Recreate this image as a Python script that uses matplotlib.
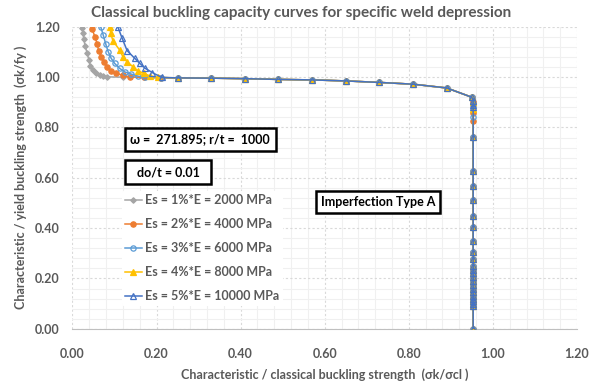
import matplotlib
matplotlib.use("Agg")
import matplotlib.pyplot as plt
from matplotlib.ticker import MultipleLocator

plt.rcParams["font.family"] = ["Lato", "DejaVu Sans"]

# ── data ──────────────────────────────────────────────────────────────────────
# shared part of all curves: plateau and vertical drop near σk/σcl ≈ 0.953
TAIL_X = [0.25, 0.33, 0.41, 0.49, 0.57, 0.65, 0.73, 0.81, 0.89, 0.950]
TAIL_Y = [0.997, 0.996, 0.994, 0.991, 0.989, 0.985, 0.979, 0.972, 0.957, 0.920]
DROP_Y = [0.762, 0.629, 0.568, 0.512, 0.450, 0.405, 0.349, 0.307, 0.278,
          0.250, 0.235, 0.220, 0.205, 0.190, 0.175, 0.160, 0.145, 0.130,
          0.120, 0.110, 0.100, 0.090, 0.0]
DROP_X = 0.953

# series-specific head (rising branch at small σk/σcl) and knee points
ES1_X = [0.023, 0.025, 0.027, 0.030, 0.035, 0.039, 0.042, 0.049, 0.057, 0.065, 0.073, 0.083, 0.12, 0.17, 0.21]
ES1_Y = [1.195, 1.175, 1.151, 1.124, 1.095, 1.068, 1.044, 1.028, 1.015, 1.008, 1.004, 1.001, 1.000, 0.999, 0.998]
ES1_KNEE = [0.905, 0.885]

ES2_X = [0.047, 0.053, 0.059, 0.062, 0.069, 0.075, 0.083, 0.091, 0.104, 0.120, 0.136, 0.17, 0.21]
ES2_Y = [1.191, 1.161, 1.132, 1.105, 1.081, 1.061, 1.041, 1.025, 1.015, 1.007, 1.001, 0.999, 0.998]
ES2_KNEE = [0.900, 0.858, 0.824]

ES3_X = [0.067, 0.073, 0.079, 0.085, 0.092, 0.100, 0.112, 0.124, 0.140, 0.156, 0.173, 0.21]
ES3_Y = [1.201, 1.168, 1.132, 1.101, 1.075, 1.055, 1.035, 1.021, 1.012, 1.004, 0.999, 0.998]
ES3_KNEE = [0.895, 0.840]

ES4_X = [0.089, 0.091, 0.096, 0.112, 0.120, 0.130, 0.144, 0.156, 0.170, 0.184, 0.204]
ES4_Y = [1.200, 1.175, 1.145, 1.108, 1.081, 1.061, 1.041, 1.025, 1.015, 1.005, 0.999]
ES4_KNEE = [0.900, 0.875]

ES5_X = [0.108, 0.118, 0.130, 0.148, 0.160, 0.173, 0.190, 0.212]
ES5_Y = [1.199, 1.155, 1.105, 1.075, 1.055, 1.035, 1.018, 0.999]
ES5_KNEE = [0.905, 0.890, 0.880]

LABELS = ["Es = 1%*E = 2000 MPa", "Es = 2%*E = 4000 MPa", "Es = 3%*E = 6000 MPa",
          "Es = 4%*E = 8000 MPa", "Es = 5%*E = 10000 MPa"]

# ── styles ────────────────────────────────────────────────────────────────────
TEXT_CLR = "#595959"
COLORS = ["#A5A5A5", "#ED7D31", "#5B9BD5", "#FFC000", "#4472C4"]
MARKERS = ["D", "o", "o", "^", "^"]
FILLED = [True, True, False, True, False]
MSIZE = [2.8, 3.8, 3.8, 4.3, 4.3]

fig = plt.figure(figsize=(6.02, 3.83), dpi=100)
ax = fig.add_axes([0.1204, 0.1415, 0.8381, 0.7885])

series = [(ES1_X, ES1_Y, ES1_KNEE), (ES2_X, ES2_Y, ES2_KNEE), (ES3_X, ES3_Y, ES3_KNEE),
          (ES4_X, ES4_Y, ES4_KNEE), (ES5_X, ES5_Y, ES5_KNEE)]

for i, (hx, hy, knee) in enumerate(series):
    xs = hx + TAIL_X + [DROP_X] * (len(knee) + len(DROP_Y))
    ys = hy + TAIL_Y + knee + DROP_Y
    ax.plot(xs, ys, color=COLORS[i], lw=1.1, marker=MARKERS[i], ms=MSIZE[i],
            mfc=COLORS[i] if FILLED[i] else "none", mec=COLORS[i], mew=0.9,
            label=LABELS[i], zorder=3 + i)

ax.set_xlim(0, 1.2)
ax.set_ylim(0, 1.2)
ax.xaxis.set_major_locator(MultipleLocator(0.2))
ax.yaxis.set_major_locator(MultipleLocator(0.2))
ax.xaxis.set_minor_locator(MultipleLocator(0.04))
ax.yaxis.set_minor_locator(MultipleLocator(0.04))
ax.grid(which="minor", color="#F0F0F0", lw=0.8, ls="-", zorder=0)
ax.grid(which="major", color="#D9D9D9", lw=0.8, ls=(0, (2, 2)), zorder=1)
ax.set_axisbelow(True)
for side in ["top", "right", "left"]:
    ax.spines[side].set_visible(False)
ax.spines["bottom"].set_color("#BFBFBF")
ax.tick_params(which="both", length=0, labelsize=9, colors=TEXT_CLR)
ax.tick_params(axis="x", pad=14)
ax.tick_params(axis="y", pad=9)
for lbl in ax.get_xticklabels() + ax.get_yticklabels():
    lbl.set_fontweight("bold")
ax.xaxis.set_major_formatter(plt.FuncFormatter(lambda v, p: f"{v:.2f}"))
ax.yaxis.set_major_formatter(plt.FuncFormatter(lambda v, p: f"{v:.2f}"))

ax.set_xlabel("Characteristic / classical buckling strength  (σk/σcl )",
              fontsize=9, fontweight="bold", color=TEXT_CLR, labelpad=6)
ax.set_ylabel("Characteristic / yield buckling strength  (σk/fy )",
              fontsize=9, fontweight="bold", color=TEXT_CLR, labelpad=6)
fig.suptitle("Classical buckling capacity curves for specific weld depression",
             fontsize=11, fontweight="bold", color=TEXT_CLR, y=0.985)

leg = ax.legend(loc="upper left", bbox_to_anchor=(0.085, 0.478), frameon=True,
                facecolor="white", edgecolor="none", framealpha=1,
                prop={"size": 9, "weight": "bold"}, handlelength=1.3,
                handletextpad=0.3, labelspacing=0.95, borderpad=0.3)
for t in leg.get_texts():
    t.set_color(TEXT_CLR)

box = dict(boxstyle="square,pad=0.45", facecolor="white", edgecolor="black", lw=1.8)
ax.text(0.253, 0.628, "ω =  271.895; r/t =  1000", transform=ax.transAxes,
        ha="center", va="center", fontsize=9, fontweight="bold", bbox=box, zorder=10)
ax.text(0.19, 0.519, "  do/t = 0.01  ", transform=ax.transAxes,
        ha="center", va="center", fontsize=9, fontweight="bold", bbox=box, zorder=10)
ax.text(0.606, 0.419, "Imperfection Type A", transform=ax.transAxes,
        ha="center", va="center", fontsize=9, fontweight="bold",
        bbox=dict(boxstyle="square,pad=0.4", facecolor="white", edgecolor="black", lw=1.8),
        zorder=10)

fig.savefig("out.png", dpi=100)
